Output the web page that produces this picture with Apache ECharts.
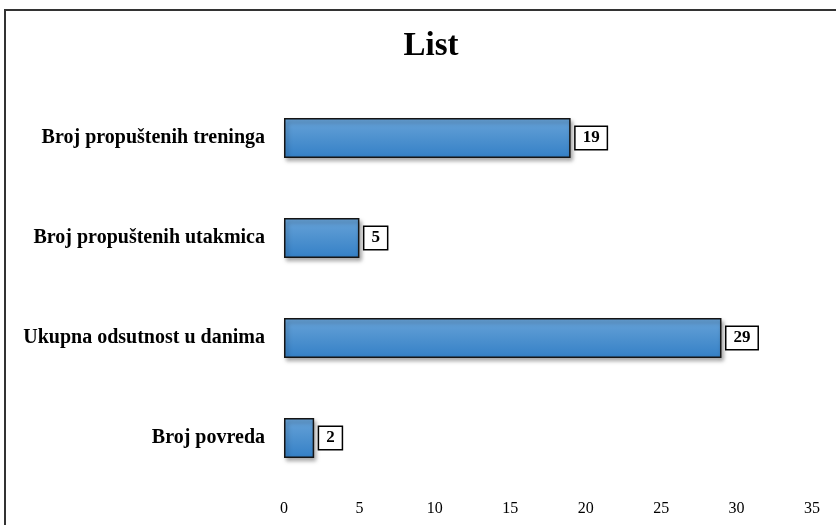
<!DOCTYPE html>
<html>
<head>
<meta charset="utf-8">
<script src="https://cdn.jsdelivr.net/npm/echarts@6/dist/echarts.min.js"></script>
<style>
  html, body { margin: 0; padding: 0; background: #fff; }
  #chart { width: 836px; height: 525px; }
</style>
</head>
<body>
<div id="chart"></div>
<script>
// Categories listed bottom-to-top as ECharts draws a category y-axis
const categories = [
  'Broj povreda',
  'Ukupna odsutnost u danima',
  'Broj propuštenih utakmica',
  'Broj propuštenih treninga'
];
const values = [2, 29, 5, 19];
const xTicks = { min: 0, max: 35, interval: 5 };

const serif = '"Liberation Serif", "Times New Roman", serif';

const chart = echarts.init(document.getElementById('chart'));
chart.setOption({
  animation: false,
  title: {
    text: 'List',
    left: 426,
    textAlign: 'center',
    top: 25,
    textStyle: { fontFamily: serif, fontSize: 33, fontWeight: 'bold', color: '#000' }
  },
  graphic: [{
    type: 'rect',
    shape: { x: 5, y: 10, width: 900, height: 600 },
    style: { fill: 'none', stroke: '#333', lineWidth: 2 },
    silent: true
  }],
  grid: { left: 284, right: 24, top: 88, bottom: 37 },
  xAxis: {
    type: 'value',
    min: xTicks.min,
    max: xTicks.max,
    interval: xTicks.interval,
    axisLine: { show: false },
    axisTick: { show: false },
    splitLine: { show: false },
    axisLabel: { fontFamily: serif, fontSize: 16, color: '#000', margin: 13 }
  },
  yAxis: {
    type: 'category',
    data: categories,
    axisLine: { show: false },
    axisTick: { show: false },
    axisLabel: { fontFamily: serif, fontSize: 20, fontWeight: 'bold', color: '#000', margin: 19 }
  },
  series: [{
    type: 'bar',
    data: values,
    barWidth: 40,
    itemStyle: {
      color: new echarts.graphic.LinearGradient(0, 0, 0, 1, [
        { offset: 0, color: '#68a3d8' },
        { offset: 1, color: '#3480c6' }
      ]),
      borderColor: '#151515',
      borderWidth: 1.5,
      shadowColor: 'rgba(0,0,0,0.35)',
      shadowBlur: 4,
      shadowOffsetX: 2,
      shadowOffsetY: 3
    },
    label: {
      show: true,
      position: 'right',
      distance: 5,
      fontFamily: serif,
      fontSize: 17,
      fontWeight: 'bold',
      color: '#000',
      backgroundColor: '#fff',
      borderColor: '#000',
      borderWidth: 1.5,
      padding: [3, 7, 2, 7]
    }
  }]
});
</script>
</body>
</html>
